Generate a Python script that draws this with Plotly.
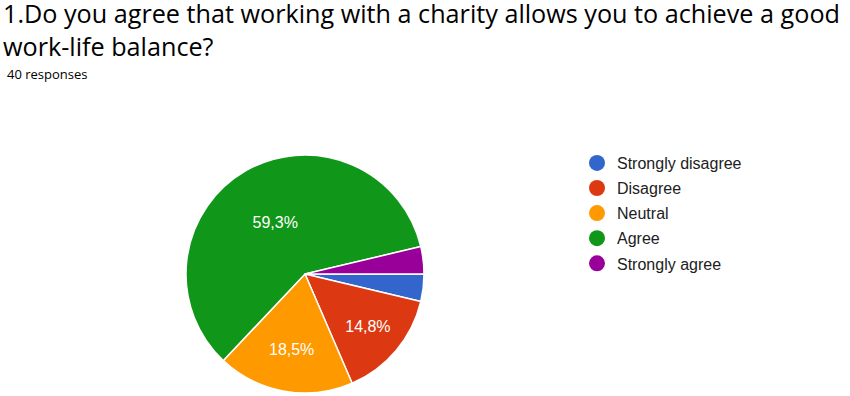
import plotly.graph_objects as go

categories = ["Strongly disagree", "Disagree", "Neutral", "Agree", "Strongly agree"]
counts = [1, 4, 5, 16, 1]
colors = ["#3366cc", "#dc3912", "#ff9900", "#109618", "#990099"]
title_text = "1.Do you agree that working with a charity allows you to achieve a good<br>work-life balance?"
subtitle_text = "40 responses"

total = sum(counts)
labels_txt = []
for c in counts:
    p = 100.0 * c / total
    labels_txt.append(("%.1f%%" % p).replace(".", ",") if p >= 5 else "")

W, H = 850, 396
cx, cy, r = 305, 274, 119

fig = go.Figure()
fig.add_trace(go.Pie(
    labels=categories, values=counts, sort=False, direction="clockwise", rotation=90,
    marker=dict(colors=colors, line=dict(color="white", width=1.5)),
    text=labels_txt, texttemplate="%{text}", textinfo="text", textposition="inside",
    insidetextorientation="horizontal",
    textfont=dict(family="Arial", size=16, color="white"),
    showlegend=False, hoverinfo="label+percent",
    domain=dict(x=[(cx - r) / W, (cx + r) / W], y=[(H - cy - r) / H, (H - cy + r) / H]),
))
for i, (cat, col) in enumerate(zip(categories, colors)):
    fig.add_trace(go.Scatter(x=[None], y=[None], mode="markers", name=cat,
                             legendgroup="g%d" % i,
                             marker=dict(symbol="circle", size=16, color=col)))

fig.update_layout(
    width=W, height=H, margin=dict(l=0, r=0, t=0, b=0),
    paper_bgcolor="white", plot_bgcolor="white",
    xaxis=dict(visible=False), yaxis=dict(visible=False),
    legend=dict(x=(596 - 19) / W, y=1 - (163 - 17) / H, xanchor="left", yanchor="top",
                font=dict(family="Arial", size=16, color="#212121"),
                itemclick=False, tracegroupgap=1.3),
    annotations=[
        dict(text=title_text, x=1 / W, y=1 + 6 / H, xref="paper", yref="paper",
             xanchor="left", yanchor="top", showarrow=False, align="left",
             font=dict(family="Open Sans", size=25.2, color="#000000")),
        dict(text=subtitle_text, x=5 / W, y=1 - 63 / H, xref="paper", yref="paper",
             xanchor="left", yanchor="top", showarrow=False, align="left",
             font=dict(family="Open Sans", size=13, color="#000000")),
    ],
)
fig.write_html("out.html", config={"displayModeBar": False},
               post_script="document.body.style.margin='0';")
